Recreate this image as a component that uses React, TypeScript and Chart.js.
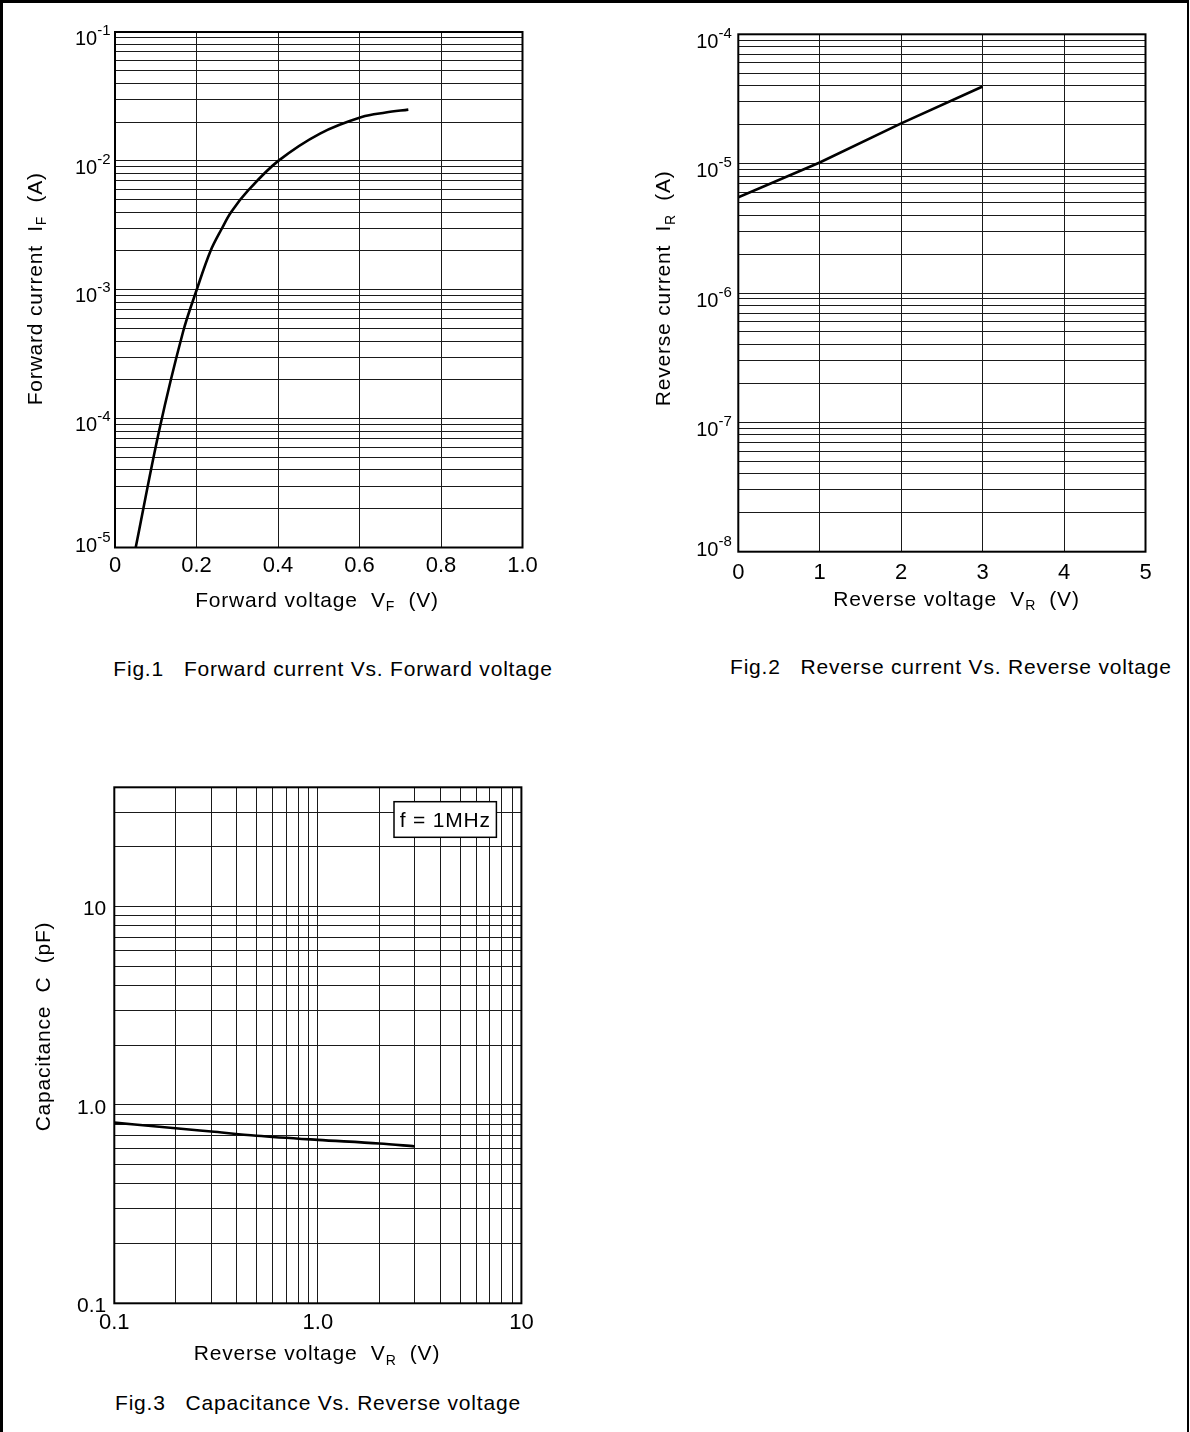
import React, { useEffect, useRef } from "react";
import { Chart, registerables } from "chart.js";

Chart.register(...registerables);

const FONT = "'Liberation Sans', Arial, Helvetica, sans-serif";
const INK = "#000";
const GRID = "#1a1a1a";

// ---------- Fig.1 : Forward current vs forward voltage ----------
const fig1VF = [0.0508, 0.1087, 0.1669, 0.2005, 0.2344, 0.2626, 0.2847, 0.3288, 0.4007, 0.5031, 0.6054, 0.6643, 0.7198];
const fig1IF = [1e-5, 8.17e-5, 4.7e-4, 1e-3, 2e-3, 3e-3, 4e-3, 6e-3, 1e-2, 1.63e-2, 2.19e-2, 2.37e-2, 2.5e-2];
const fig1XTicks = [0, 0.2, 0.4, 0.6, 0.8, 1.0];
const fig1XLabels = ["0", "0.2", "0.4", "0.6", "0.8", "1.0"];
const fig1YExponents = [-5, -4, -3, -2, -1];
const fig1XTitle = ["Forward voltage  V", "F", "  (V)"];
const fig1YTitle = ["Forward current  I", "F", "  (A)"];
const fig1Caption = "Fig.1   Forward current Vs. Forward voltage";

// ---------- Fig.2 : Reverse current vs reverse voltage ----------
const fig2VR = [0, 1, 2, 3];
const fig2IR = [5.5e-6, 1.02e-5, 2.05e-5, 3.95e-5];
const fig2XTicks = [0, 1, 2, 3, 4, 5];
const fig2XLabels = ["0", "1", "2", "3", "4", "5"];
const fig2YExponents = [-8, -7, -6, -5, -4];
const fig2XTitle = ["Reverse voltage  V", "R", "  (V)"];
const fig2YTitle = ["Reverse current  I", "R", "  (A)"];
const fig2Caption = "Fig.2   Reverse current Vs. Reverse voltage";

// ---------- Fig.3 : Capacitance vs reverse voltage ----------
const fig3VR = [0.1, 0.2, 0.3, 0.5, 1.0, 2.0, 3.0];
const fig3C = [0.815, 0.764, 0.735, 0.7, 0.667, 0.64, 0.618];
const fig3XRange = [0.1, 10];
const fig3YRange = [0.1, 40];
const fig3XMajor = [0.1, 1, 10];
const fig3XLabels = ["0.1", "1.0", "10"];
const fig3YMajor = [0.1, 1, 10];
const fig3YLabels = ["0.1", "1.0", "10"];
const fig3XTitle = ["Reverse voltage  V", "R", "  (V)"];
const fig3YTitle = ["Capacitance  C  (pF)"];
const fig3Note = "f = 1MHz";
const fig3Caption = "Fig.3   Capacitance Vs. Reverse voltage";

// log grid values 1..9 x 10^n between min and max (inclusive)
function logGrid(min: number, max: number): number[] {
  const out: number[] = [];
  const e0 = Math.floor(Math.log10(min) + 1e-9);
  const e1 = Math.ceil(Math.log10(max) - 1e-9);
  for (let e = e0; e <= e1; e++) {
    for (let k = 1; k <= 9; k++) {
      const v = Number((k * Math.pow(10, e)).toPrecision(6));
      if (v >= min * 0.999999 && v <= max * 1.000001) out.push(v);
    }
  }
  return out;
}

type Rich = { segs: string[]; cx: number; cy: number; rotate?: boolean };

function drawRich(ctx: CanvasRenderingContext2D, r: Rich) {
  const size = 21;
  const sub = 14;
  ctx.save();
  ctx.translate(r.cx, r.cy);
  if (r.rotate) ctx.rotate(-Math.PI / 2);
  ctx.fillStyle = INK;
  ctx.textAlign = "left";
  ctx.textBaseline = "alphabetic";
  (ctx as any).letterSpacing = "0.8px";
  const widths = r.segs.map((s, i) => {
    ctx.font = `${i % 2 === 1 ? sub : size}px ${FONT}`;
    return ctx.measureText(s).width;
  });
  const total = widths.reduce((a, b) => a + b, 0);
  let x = -total / 2;
  const base = (size * 0.716) / 2;
  r.segs.forEach((s, i) => {
    const isSub = i % 2 === 1;
    ctx.font = `${isSub ? sub : size}px ${FONT}`;
    ctx.fillText(s, x, base + (isSub ? 4.5 : 0));
    x += widths[i];
  });
  ctx.restore();
}

type OverlayCfg = {
  yPow?: number[]; // exponents for 10^n labels
  yPlain?: { values: number[]; labels: string[] };
  gap: number;
  offset: number;
  bottomOffset: number;
  xTitle: Rich;
  yTitle: Rich;
  note?: { text: string; right: number; top: number; w: number; h: number };
};

function overlay(cfg: OverlayCfg) {
  return {
    id: "overlay",
    afterDraw(chart: any) {
      const ctx: CanvasRenderingContext2D = chart.ctx;
      const a = chart.chartArea;
      const ys = chart.scales.y;
      ctx.save();
      // plot frame
      ctx.strokeStyle = INK;
      ctx.lineWidth = 2;
      ctx.strokeRect(a.left, a.top, a.right - a.left, a.bottom - a.top);
      ctx.fillStyle = INK;
      ctx.textAlign = "left";
      ctx.textBaseline = "alphabetic";
      const right = a.left - cfg.gap;
      const capHalf = (20 * 0.716) / 2;
      if (cfg.yPow) {
        const minE = Math.min(...cfg.yPow);
        cfg.yPow.forEach((e) => {
          const y = ys.getPixelForValue(Math.pow(10, e));
          const off = e === minE ? cfg.bottomOffset : cfg.offset;
          ctx.font = `20px ${FONT}`;
          const w10 = ctx.measureText("10").width;
          ctx.font = `15px ${FONT}`;
          const we = ctx.measureText(String(e)).width;
          const x0 = right - w10 - we;
          const base = y + off + capHalf;
          ctx.font = `20px ${FONT}`;
          ctx.fillText("10", x0, base);
          ctx.font = `15px ${FONT}`;
          ctx.fillText(String(e), x0 + w10, base - 10);
        });
      }
      if (cfg.yPlain) {
        const minV = Math.min(...cfg.yPlain.values);
        cfg.yPlain.values.forEach((v, i) => {
          const y = ys.getPixelForValue(v);
          const off = v === minV ? cfg.bottomOffset : cfg.offset;
          ctx.font = `21px ${FONT}`;
          ctx.textAlign = "right";
          ctx.fillText(cfg.yPlain!.labels[i], right, y + off + (21 * 0.716) / 2);
        });
      }
      ctx.restore();
      drawRich(ctx, cfg.xTitle);
      drawRich(ctx, { ...cfg.yTitle, rotate: true });
      if (cfg.note) {
        const n = cfg.note;
        const x = a.right - n.right - n.w;
        const y = a.top + n.top;
        ctx.save();
        ctx.fillStyle = "#fff";
        ctx.fillRect(x, y, n.w, n.h);
        ctx.strokeStyle = INK;
        ctx.lineWidth = 1.5;
        ctx.strokeRect(x, y, n.w, n.h);
        ctx.restore();
        drawRich(ctx, { segs: [n.text], cx: x + n.w / 2, cy: y + n.h / 2 });
      }
    },
  };
}

const gridOpts = () => ({ color: GRID, lineWidth: 1, drawTicks: false });

function lineDataset(xs: number[], ys: number[], mode: "monotone" | "spline" | "straight") {
  return {
    data: xs.map((x, i) => ({ x, y: ys[i] })),
    borderColor: INK,
    borderWidth: 2.6,
    pointRadius: 0,
    fill: false,
    tension: mode === "spline" ? 0.35 : 0,
    cubicInterpolationMode: mode === "monotone" ? "monotone" : "default",
  };
}

function xTickOpts(padding: number, cb: (v: number, i: number) => string) {
  return {
    autoSkip: false,
    maxRotation: 0,
    minRotation: 0,
    padding,
    color: INK,
    font: { family: FONT, size: 22 },
    callback: (v: any, i: number) => cb(Number(v), i),
  };
}

const baseOptions = (padding: any) => ({
  responsive: false,
  animation: false,
  events: [],
  layout: { padding },
  plugins: { legend: { display: false }, tooltip: { enabled: false } },
});

export default function App() {
  const r1 = useRef<HTMLCanvasElement>(null);
  const r2 = useRef<HTMLCanvasElement>(null);
  const r3 = useRef<HTMLCanvasElement>(null);

  useEffect(() => {
    const charts: Chart[] = [];

    // Fig.1 canvas: 580x630 at (0,0); plot 115..522.5 x 32..547.5
    charts.push(
      new Chart(r1.current!, {
        type: "line",
        data: { datasets: [lineDataset(fig1VF, fig1IF, "spline") as any] },
        options: {
          ...baseOptions({ left: 105, top: 32, right: 57.5, bottom: 42.5 }),
          scales: {
            x: {
              type: "linear",
              min: 0,
              max: 1,
              afterBuildTicks: (s: any) => {
                s.ticks = fig1XTicks.map((v) => ({ value: v }));
              },
              afterFit: (s: any) => {
                s.height = 40;
              },
              grid: gridOpts(),
              border: { display: false },
              ticks: xTickOpts(5, (_v, i) => fig1XLabels[i]),
            },
            y: {
              type: "logarithmic",
              min: 1e-5,
              max: 1e-1,
              afterBuildTicks: (s: any) => {
                s.ticks = logGrid(1e-5, 1e-1).map((v) => ({ value: v }));
              },
              afterFit: (s: any) => {
                s.width = 10;
              },
              grid: gridOpts(),
              border: { display: false },
              ticks: { display: false, autoSkip: false },
            },
          },
        } as any,
        plugins: [
          overlay({
            yPow: fig1YExponents,
            gap: 4.5,
            offset: 5.5,
            bottomOffset: -3,
            xTitle: { segs: fig1XTitle, cx: 317, cy: 599 },
            yTitle: { segs: fig1YTitle, cx: 34, cy: 288.7 },
          }),
        ],
      })
    );

    // Fig.2 canvas: 570x630 at (620,0); plot local 118..525.5 x 34.3..551.7
    charts.push(
      new Chart(r2.current!, {
        type: "line",
        data: { datasets: [lineDataset(fig2VR, fig2IR, "straight") as any] },
        options: {
          ...baseOptions({ left: 108.3, top: 34.3, right: 44.5, bottom: 38.3 }),
          scales: {
            x: {
              type: "linear",
              min: 0,
              max: 5,
              afterBuildTicks: (s: any) => {
                s.ticks = fig2XTicks.map((v) => ({ value: v }));
              },
              afterFit: (s: any) => {
                s.height = 40;
              },
              grid: gridOpts(),
              border: { display: false },
              ticks: xTickOpts(7.6, (_v, i) => fig2XLabels[i]),
            },
            y: {
              type: "logarithmic",
              min: 1e-8,
              max: 1e-4,
              afterBuildTicks: (s: any) => {
                s.ticks = logGrid(1e-8, 1e-4).map((v) => ({ value: v }));
              },
              afterFit: (s: any) => {
                s.width = 10;
              },
              grid: gridOpts(),
              border: { display: false },
              ticks: { display: false, autoSkip: false },
            },
          },
        } as any,
        plugins: [
          overlay({
            yPow: fig2YExponents,
            gap: 6.5,
            offset: 6.5,
            bottomOffset: -3,
            xTitle: { segs: fig2XTitle, cx: 336.5, cy: 598.3 },
            yTitle: { segs: fig2YTitle, cx: 42.7, cy: 288.3 },
          }),
        ],
      })
    );

    // Fig.3 canvas: 580x640 at (0,740); plot local 114.3..521.4 x 47.3..563.3
    charts.push(
      new Chart(r3.current!, {
        type: "line",
        data: { datasets: [lineDataset(fig3VR, fig3C, "monotone") as any] },
        options: {
          ...baseOptions({ left: 104.3, top: 47.3, right: 58.6, bottom: 36.7 }),
          scales: {
            x: {
              type: "logarithmic",
              min: fig3XRange[0],
              max: fig3XRange[1],
              afterBuildTicks: (s: any) => {
                s.ticks = logGrid(fig3XRange[0], fig3XRange[1]).map((v) => ({ value: v }));
              },
              afterFit: (s: any) => {
                s.height = 40;
              },
              grid: gridOpts(),
              border: { display: false },
              ticks: xTickOpts(6, (v) => {
                const k = fig3XMajor.findIndex((m) => Math.abs(m - v) < 1e-9);
                return k >= 0 ? fig3XLabels[k] : "";
              }),
            },
            y: {
              type: "logarithmic",
              min: fig3YRange[0],
              max: fig3YRange[1],
              afterBuildTicks: (s: any) => {
                s.ticks = logGrid(fig3YRange[0], fig3YRange[1]).map((v) => ({ value: v }));
              },
              afterFit: (s: any) => {
                s.width = 10;
              },
              grid: gridOpts(),
              border: { display: false },
              ticks: { display: false, autoSkip: false },
            },
          },
        } as any,
        plugins: [
          overlay({
            yPlain: { values: fig3YMajor, labels: fig3YLabels },
            gap: 8,
            offset: 1,
            bottomOffset: 1,
            xTitle: { segs: fig3XTitle, cx: 317, cy: 612.5 },
            yTitle: { segs: fig3YTitle, cx: 42, cy: 286.5 },
            note: { text: fig3Note, right: 25, top: 14.4, w: 102.4, h: 35.6 },
          }),
        ],
      })
    );

    return () => charts.forEach((c) => c.destroy());
  }, []);

  const captionStyle = (left: number, capCenter: number): React.CSSProperties => ({
    position: "absolute",
    left,
    top: capCenter - 10.25,
    font: `21px ${FONT}`,
    lineHeight: "21px",
    letterSpacing: "0.8px",
    whiteSpace: "pre",
    color: INK,
  });

  return (
    <div
      style={{
        position: "absolute",
        left: 0,
        top: 0,
        width: 1189,
        height: 1432,
        boxSizing: "border-box",
        borderTop: "3px solid #000",
        borderLeft: "3px solid #000",
        borderRight: "2px solid #000",
        background: "#fff",
        overflow: "hidden",
      }}
    >
      <canvas
        ref={r1}
        width={580}
        height={630}
        style={{ position: "absolute", left: -3, top: -3, width: 580, height: 630 }}
      />
      <canvas
        ref={r2}
        width={570}
        height={630}
        style={{ position: "absolute", left: 617, top: -3, width: 570, height: 630 }}
      />
      <canvas
        ref={r3}
        width={580}
        height={640}
        style={{ position: "absolute", left: -3, top: 737, width: 580, height: 640 }}
      />
      <div style={captionStyle(113.3 - 3, 668.7 - 3)}>{fig1Caption}</div>
      <div style={captionStyle(730 - 3, 666.7 - 3)}>{fig2Caption}</div>
      <div style={captionStyle(115 - 3, 1402.5 - 3)}>{fig3Caption}</div>
    </div>
  );
}
